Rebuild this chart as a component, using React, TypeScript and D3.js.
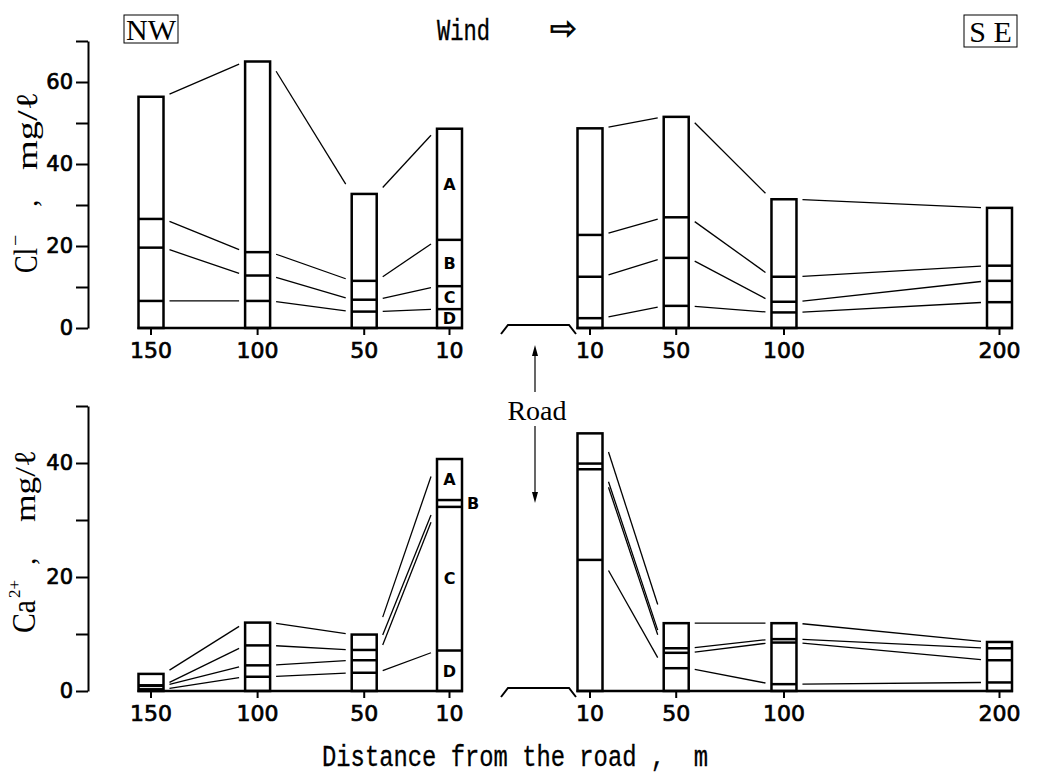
import React, { useEffect, useRef } from 'react';
import * as d3 from 'd3';

// sampling sites, metres from the road (NW side first, then SE side)
const sites = [150, 100, 50, 10, 10, 50, 100, 200];
const sides = ['NW', 'NW', 'NW', 'NW', 'SE', 'SE', 'SE', 'SE'];
const fractions = ['D', 'C', 'B', 'A'];

// Cl- , mg/l in each fraction
const clD = [6.6, 6.6, 4.0, 4.6, 2.4, 5.4, 3.8, 6.3];
const clC = [13.0, 6.2, 2.9, 5.6, 10.1, 11.7, 2.6, 5.2];
const clB = [7.0, 5.7, 4.6, 11.3, 10.2, 9.9, 6.1, 3.7];
const clA = [29.8, 46.5, 21.2, 27.1, 26.0, 24.5, 18.9, 14.1];

// Ca2+ , mg/l in each fraction
const caD = [0.3, 2.5, 3.2, 7.1, 23.0, 4.0, 1.2, 1.5];
const caC = [0.6, 2.0, 2.2, 25.2, 15.9, 2.7, 7.3, 3.9];
const caB = [0.1, 3.5, 1.8, 1.2, 1.0, 0.8, 0.6, 2.1];
const caA = [2.0, 4.0, 2.7, 7.2, 5.3, 4.4, 2.8, 1.1];

const clTicks = [0, 10, 20, 30, 40, 50, 60, 70];
const caTicks = [0, 10, 20, 30, 40, 50];

const BAR_W = 25;
const GAP = 6; // gap between a bar and its connecting lines
const labelSite = 3; // bar that carries the A-D labels

const xLeft = d3.scaleLinear().domain([150, 10]).range([151, 449.5]);
const xRight = d3.scaleLinear().domain([10, 200]).range([590, 999.5]);
const xPos = (i: number) => (sides[i] === 'NW' ? xLeft(sites[i]) : xRight(sites[i]));

const mono = 'Liberation Mono, DejaVu Sans Mono, monospace';
const serif = 'Liberation Serif, DejaVu Serif, serif';
const sans = 'DejaVu Sans, Liberation Sans, sans-serif';

type PanelProps = {
  d: number[]; c: number[]; b: number[]; a: number[];
  y: d3.ScaleLinear<number, number>;
  ticks: number[];
};

const Panel = ({ d, c, b, a, y, ticks }: PanelProps) => {
  const axisRef = useRef<SVGGElement>(null);

  useEffect(() => {
    const g = d3.select(axisRef.current);
    g.selectAll('*').remove();
    g.call(
      d3.axisLeft(y)
        .tickValues(ticks)
        .tickSize(12)
        .tickSizeOuter(0)
        .tickPadding(3)
        .tickFormat((v: any) => (+v % 20 === 0 ? String(v) : ''))
    );
    g.attr('font-family', sans).attr('font-size', 21);
    g.select('.domain').attr('stroke-width', 2);
    g.selectAll('.tick line').attr('stroke-width', 2);
    g.selectAll('.tick text').attr('fill', '#000').attr('stroke', '#000').attr('stroke-width', 0.7);
  }, [y, ticks]);

  const rows = sites.map((_, i) => ({ D: d[i], C: c[i], B: b[i], A: a[i] }));
  const series = d3.stack<any>().keys(fractions)(rows);
  const y0 = y(0);

  const groups = ['NW', 'SE'].map(side => sites.map((_, i) => i).filter(i => sides[i] === side));

  const connectors: JSX.Element[] = [];
  sites.forEach((_, i) => {
    if (i === sites.length - 1 || sides[i] !== sides[i + 1]) return;
    const x1 = xPos(i) + BAR_W / 2;
    const x2 = xPos(i + 1) - BAR_W / 2;
    series.forEach((s, k) => {
      const ya = y(s[i][1]);
      const yb = y(s[i + 1][1]);
      const t1 = GAP / (x2 - x1);
      const t2 = 1 - t1;
      connectors.push(
        <line key={`c${i}-${k}`}
          x1={x1 + (x2 - x1) * t1} y1={ya + (yb - ya) * t1}
          x2={x1 + (x2 - x1) * t2} y2={ya + (yb - ya) * t2}
          stroke="#000" strokeWidth={1.3} />
      );
    });
  });

  return (
    <g>
      <g ref={axisRef} transform="translate(88,0)" />
      {groups.map((idx, gi) => (
        <line key={`base${gi}`}
          x1={xPos(idx[0]) - BAR_W / 2 - 1} x2={xPos(idx[idx.length - 1]) + BAR_W / 2 + 1}
          y1={y0} y2={y0} stroke="#000" strokeWidth={2.5} />
      ))}
      {sites.map((s, i) => (
        <g key={`t${i}`}>
          <line x1={xPos(i)} x2={xPos(i)} y1={y0} y2={y0 + 7} stroke="#000" strokeWidth={2} />
          <text x={xPos(i)} y={y0 + 30} textAnchor="middle" fontFamily={sans} fontSize={22}
            stroke="#000" strokeWidth={0.7}>{s}</text>
        </g>
      ))}
      {/* road cross-section */}
      <path d={`M501,${y0 + 6}L508,${y0 - 3}L569,${y0 - 3}L576,${y0 + 6}`} fill="none" stroke="#000" strokeWidth={2} />
      {connectors}
      {sites.map((_, i) => {
        const cx = xPos(i);
        const top = series[series.length - 1][i][1];
        return (
          <g key={`b${i}`}>
            <rect x={cx - BAR_W / 2} y={y(top)} width={BAR_W} height={y0 - y(top)}
              fill="none" stroke="#000" strokeWidth={2.5} />
            {series.slice(0, -1).map((s, k) => (
              <line key={k} x1={cx - BAR_W / 2} x2={cx + BAR_W / 2} y1={y(s[i][1])} y2={y(s[i][1])}
                stroke="#000" strokeWidth={2.5} />
            ))}
          </g>
        );
      })}
      {series.map((s, k) => {
        const [lo, hi] = s[labelSite];
        const h = y(lo) - y(hi);
        const cx = xPos(labelSite);
        const inside = h >= 14;
        return (
          <text key={`l${k}`} x={inside ? cx : cx + BAR_W / 2 + 11} y={y((lo + hi) / 2)} dy="0.36em"
            textAnchor="middle" fontFamily={sans} fontWeight="bold" fontSize={16}>{fractions[k]}</text>
        );
      })}
    </g>
  );
};

const App = () => {
  const yCl = d3.scaleLinear().domain([0, 70]).range([328, 41]);
  const yCa = d3.scaleLinear().domain([0, 50]).range([691, 406]);

  return (
    <svg width={1055} height={775} style={{ position: 'absolute', left: 0, top: 0, background: '#fff' }}>
      <Panel d={clD} c={clC} b={clB} a={clA} y={yCl} ticks={clTicks} />
      <Panel d={caD} c={caC} b={caB} a={caA} y={yCa} ticks={caTicks} />

      {/* direction labels */}
      <rect x={124} y={15} width={54} height={28} fill="none" stroke="#000" strokeWidth={1} />
      <text x={151} y={40} textAnchor="middle" fontFamily={serif} fontSize={30}>NW</text>
      <rect x={964} y={15} width={53} height={32} fill="none" stroke="#000" strokeWidth={1} />
      <text x={990.5} y={42} textAnchor="middle" fontFamily={serif} fontSize={30} style={{ whiteSpace: 'pre' }}>S E</text>
      <text x={437} y={40} fontFamily={mono} fontSize={30} textLength={53} lengthAdjust="spacingAndGlyphs"
        stroke="#000" strokeWidth={0.4}>Wind</text>
      <text x={550} y={39} fontFamily="DejaVu Sans" fontSize={32} stroke="#000" strokeWidth={0.9}>⇨</text>

      {/* road marker */}
      <text x={537} y={420} textAnchor="middle" fontFamily={serif} fontSize={28}>Road</text>
      <line x1={535} x2={535} y1={392} y2={352} stroke="#000" strokeWidth={1.2} />
      <path d="M532,356L535,345L538,356Z" fill="#000" />
      <line x1={535} x2={535} y1={426} y2={496} stroke="#000" strokeWidth={1.2} />
      <path d="M532,492L535,503L538,492Z" fill="#000" />

      {/* y titles */}
      <g transform="translate(37,273) rotate(-90)">
        <text x={0} y={0} fontFamily={serif} fontSize={33} textLength={25} lengthAdjust="spacingAndGlyphs">Cl</text>
        <text x={27} y={-15} fontFamily={serif} fontSize={20}>−</text>
        <text x={66} y={0} fontFamily={serif} fontSize={30}>,</text>
        <text x={103} y={0} fontFamily={serif} fontSize={30} textLength={78} lengthAdjust="spacingAndGlyphs">mg/ℓ</text>
      </g>
      <g transform="translate(35,633) rotate(-90)">
        <text x={0} y={0} fontFamily={serif} fontSize={33} textLength={33} lengthAdjust="spacingAndGlyphs">Ca</text>
        <text x={35} y={-15} fontFamily={serif} fontSize={17} textLength={18} lengthAdjust="spacing">2+</text>
        <text x={68} y={0} fontFamily={serif} fontSize={30}>,</text>
        <text x={111} y={0} fontFamily={serif} fontSize={30} textLength={72} lengthAdjust="spacingAndGlyphs">mg/ℓ</text>
      </g>

      <text x={322} y={766} fontFamily={mono} fontSize={29} textLength={386} lengthAdjust="spacingAndGlyphs"
        stroke="#000" strokeWidth={0.3} style={{ whiteSpace: 'pre' }}>Distance from the road ,  m</text>
    </svg>
  );
};

export default App;
